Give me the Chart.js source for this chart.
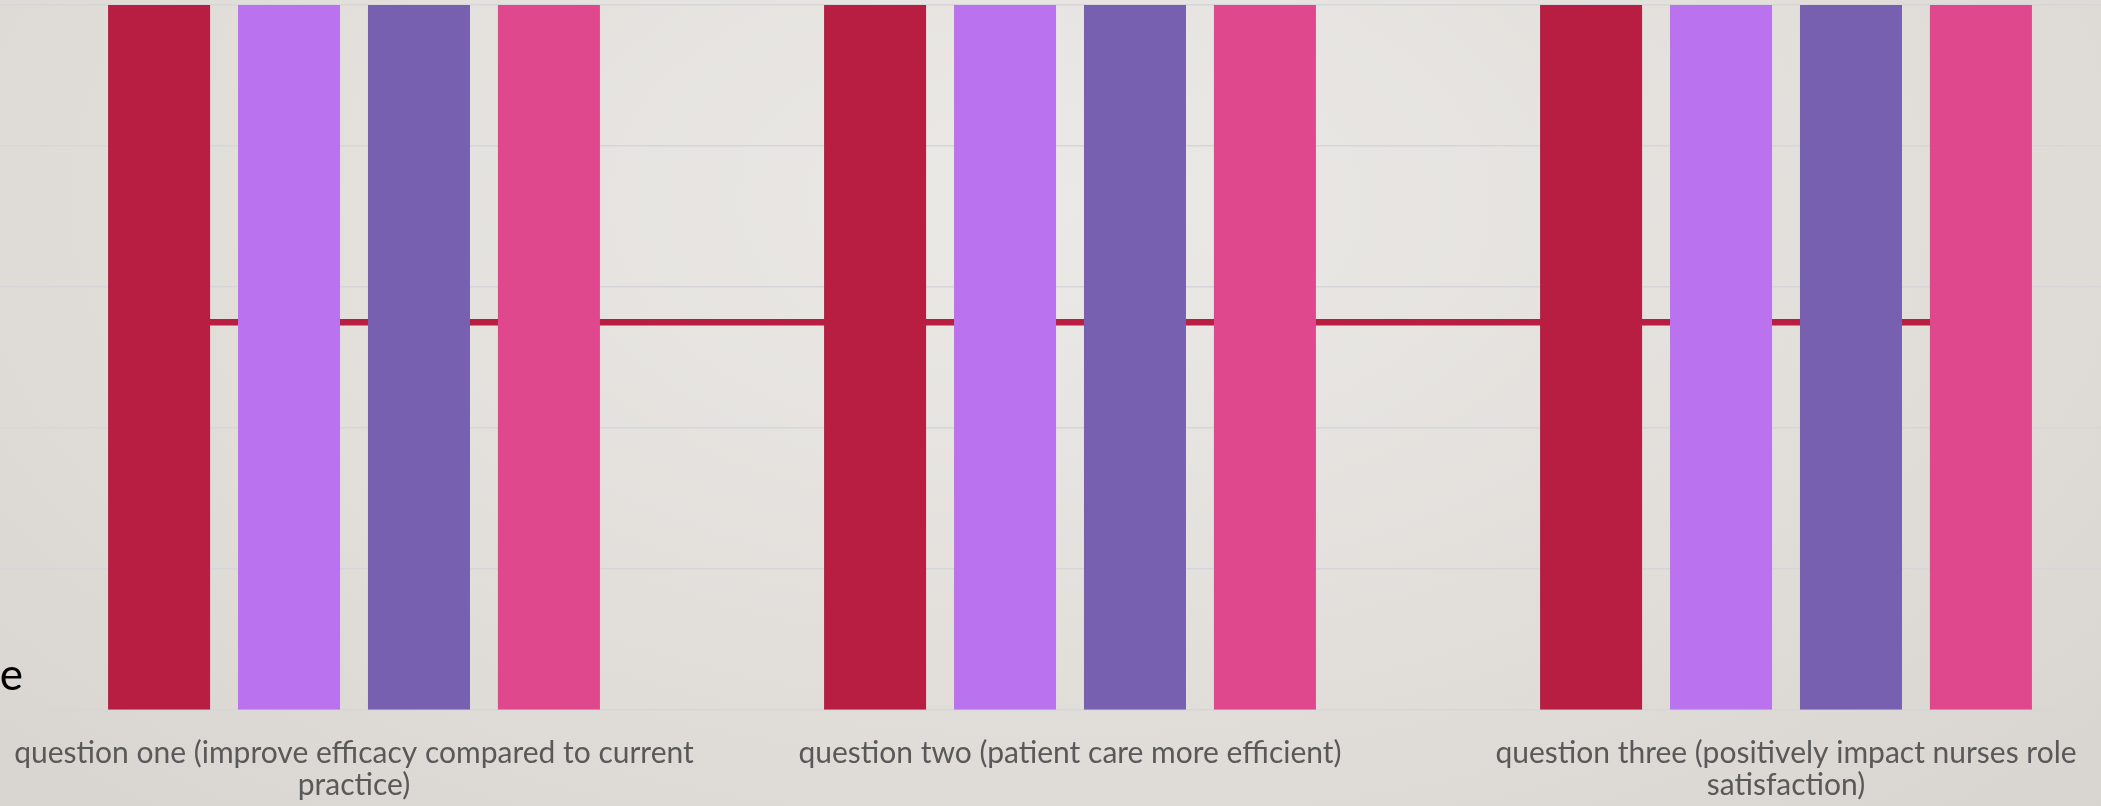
<!DOCTYPE html>
<html>
<head>
<meta charset="utf-8">
<script src="https://cdn.jsdelivr.net/npm/chart.js@4/dist/chart.umd.min.js"></script>
<style>
    html, body {
        margin: 0;
        padding: 0;
        width: 2101px;
        height: 806px;
        overflow: hidden;
        background: radial-gradient(ellipse at 50% 25%, #ebe9e6 0%, #e2dfdb 55%, #d8d5d0 100%);
        font-family: Lato, "Open Sans", sans-serif;
    }
    .layer {
        position: absolute;
        left: -4px;
        top: 0;
        width: 2148px;
        height: 808px;
    }
    #side-text {
        position: absolute;
        right: calc(100% - 23px);
        top: 647px;
        font-size: 44px;
        color: #000;
        white-space: nowrap;
    }
</style>
</head>
<body>
<div class="layer"><canvas id="back"></canvas></div>
<div class="layer"><canvas id="chart"></canvas></div>
<div id="side-text">e</div>
<script>
    const categories = [
        ['question one (improve efficacy compared to current', 'practice)'],
        ['question two (patient care more efficient)'],
        ['question three (positively impact nurses role', 'satisfaction)']
    ];
    const seriesNames = ['Series 1', 'Series 2', 'Series 3', 'Series 4'];
    const series1 = [5, 5, 5];
    const series2 = [5, 5, 5];
    const series3 = [5, 5, 5];
    const series4 = [5, 5, 5];
    const barColors = ['#b81e41', '#bb72ee', '#7760b0', '#e0488e'];

    // horizontal line behind the bars, x in category units (0 = left edge of first category)
    const lineX = [0.23, 2.77];
    const lineY = [2.75, 2.75];

    const yTicks = [0, 1, 2, 3, 4, 5];

    // both canvases share this layout so their chart areas line up
    const sharedLayout = { padding: { top: 5, bottom: 4, left: 0, right: 0 } };

    function xAxis(labelColor) {
        return {
            type: 'category',
            offset: true,
            // tick marks are not drawn, tickLength only makes the gap under the axis
            grid: { display: false, drawTicks: true, tickLength: 24 },
            border: { display: false },
            ticks: {
                color: labelColor,
                font: { family: 'Lato', size: 30, lineHeight: 1.07 },
                padding: 3,
                maxRotation: 0,
                autoSkip: false
            }
        };
    }

    function yAxis(showGrid) {
        return {
            min: yTicks[0],
            max: yTicks[yTicks.length - 1],
            grid: { display: showGrid, color: '#d5d5da', lineWidth: 1.5, drawTicks: false },
            border: { display: false },
            ticks: { display: false, stepSize: 1 }
        };
    }

    // back layer: gridlines and the line
    new Chart(document.getElementById('back'), {
        type: 'line',
        data: {
            labels: categories,
            datasets: [{
                label: 'Line',
                data: lineX.map((x, i) => ({ x: x, y: lineY[i] })),
                xAxisID: 'xLine',
                borderColor: '#b81e41',
                borderWidth: 6.5,
                pointRadius: 0,
                fill: false
            }]
        },
        options: {
            responsive: true,
            maintainAspectRatio: false,
            animation: false,
            layout: sharedLayout,
            plugins: { legend: { display: false }, tooltip: { enabled: false } },
            scales: {
                x: xAxis('rgba(0,0,0,0)'),
                xLine: { type: 'linear', display: false, min: 0, max: categories.length },
                y: yAxis(true)
            }
        }
    });

    // front layer: bars and category labels
    const allSeries = [series1, series2, series3, series4];
    new Chart(document.getElementById('chart'), {
        type: 'bar',
        data: {
            labels: categories,
            datasets: allSeries.map((values, i) => ({
                label: seriesNames[i],
                data: values,
                backgroundColor: barColors[i],
                borderWidth: 0,
                categoryPercentage: 0.726,
                barPercentage: 0.785
            }))
        },
        options: {
            responsive: true,
            maintainAspectRatio: false,
            animation: false,
            layout: sharedLayout,
            plugins: { legend: { display: false }, tooltip: { enabled: false } },
            scales: {
                x: xAxis('#595959'),
                y: yAxis(false)
            }
        }
    });
</script>
</body>
</html>
